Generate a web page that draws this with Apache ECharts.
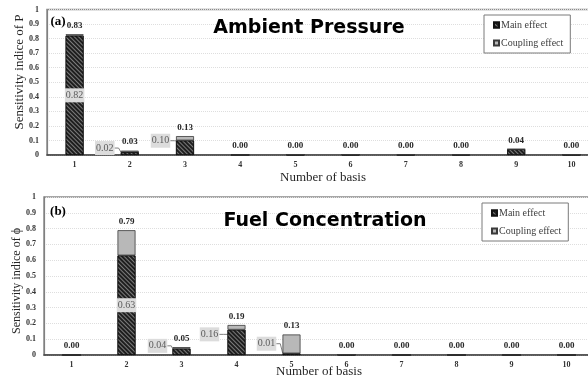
<!DOCTYPE html>
<html>
<head>
<meta charset="utf-8">
<script src="https://cdn.jsdelivr.net/npm/echarts@6/dist/echarts.min.js"></script>
<style>
  html, body { margin: 0; padding: 0; background: #fff; }
  #chart { width: 588px; height: 378px; }
</style>
</head>
<body>
<div id="chart"></div>
<script>
// Number of basis functions
const categories = ['1', '2', '3', '4', '5', '6', '7', '8', '9', '10'];
const yTicks = [0, 0.1, 0.2, 0.3, 0.4, 0.5, 0.6, 0.7, 0.8, 0.9, 1];

// (a) Ambient pressure: main and coupling sensitivity
const mainP     = [0.82, 0.02, 0.10, 0, 0.003, 0.003, 0.003, 0.003, 0.04, 0.003];
const couplingP = [0.01, 0.01, 0.03, 0, 0,     0,     0,     0,     0,    0];
const calloutP  = [0, 1, 2];

// (b) Fuel concentration: main and coupling sensitivity
const mainPhi     = [0, 0.63, 0.04, 0.16, 0.01, 0.003, 0, 0, 0, 0];
const couplingPhi = [0, 0.16, 0.01, 0.03, 0.12, 0,     0, 0, 0, 0];
const calloutPhi  = [1, 2, 3, 4];

const serif = '"Liberation Serif", "Times New Roman", serif';

// dark bars with "\" hatching
const mainStyle = {
  color: '#1e1e1e',
  borderColor: '#111',
  borderWidth: 0.8,
  decal: {
    symbol: 'rect', symbolSize: 1,
    dashArrayX: [[1, 0]], dashArrayY: [1, 2],
    rotation: Math.PI / 4,
    color: 'rgba(140,140,140,0.85)'
  }
};
const couplingStyle = { color: '#b8b8b8', borderColor: '#3a3a3a', borderWidth: 0.8 };

const calloutLabel = {
  show: true, position: 'inside',
  formatter: p => p.value.toFixed(2),
  fontFamily: serif, fontSize: 10, color: '#5a5a5a',
  backgroundColor: '#dcdcdc', padding: [2, 1]
};

function mainData(values, callouts) {
  return values.map((v, i) => callouts.includes(i)
    ? { value: v, label: calloutLabel }
    : { value: v, label: { show: false } });
}

function totalLabel(mainArr, coupArr) {
  return {
    show: true, position: 'top', distance: 4,
    formatter: p => (mainArr[p.dataIndex] + coupArr[p.dataIndex]).toFixed(2),
    fontFamily: serif, fontSize: 9, fontWeight: 'bold', color: '#262626'
  };
}

// shifts of the callout boxes (dx, dy) away from the bars, keyed by category
const shiftA = { 1: [-25, -5.5], 2: [-24.5, -7] };
const shiftB = { 2: [-24, -6], 3: [-27, -8], 4: [-25, -10.5] };

function layoutFor(shift) {
  return p => {
    const s = shift[p.dataIndex];
    return s ? { dx: s[0], dy: s[1] } : {};
  };
}

const leader = { show: true, length2: 4, lineStyle: { color: '#808080', width: 1 } };

// the plot areas run past the right edge of the page
const grids = [
  { left: 47, top: 9.5, width: 552, height: 145.5 },
  { left: 44, top: 197, width: 550, height: 158 }
];

function xAxis(idx, gridIndex) {
  return {
    type: 'category', gridIndex, data: categories,
    axisLine: { lineStyle: { color: '#404040', width: 1.5 } },
    axisTick: { show: false },
    axisLabel: { fontFamily: serif, fontSize: 8, fontWeight: 'bold', color: '#333', margin: 6 }
  };
}
function yAxis(gridIndex) {
  return {
    type: 'value', gridIndex, min: 0, max: 1, interval: 0.1,
    axisLine: { show: true, lineStyle: { color: '#808080', width: 1.2 } },
    axisTick: { show: false },
    axisLabel: {
      fontFamily: serif, fontSize: 8, fontWeight: 'bold', color: '#333', margin: 8,
      formatter: v => String(+v.toFixed(1))
    },
    splitLine: { lineStyle: { color: '#dedede', type: 'dotted', width: 1 } }
  };
}

function legend(left, top) {
  return {
    left, top, orient: 'vertical',
    data: [
      { name: 'Main effect', icon: 'rect' },
      { name: 'Coupling effect', icon: 'rect' }
    ],
    itemWidth: 5, itemHeight: 5, itemGap: 8,
    padding: [5, 7, 5, 9],
    borderColor: '#7a7a7a', borderWidth: 1,
    backgroundColor: '#fff',
    textStyle: { fontFamily: serif, fontSize: 10, color: '#404040', padding: [0, 0, 0, -3] },
    selectedMode: false
  };
}

function text(str, x, y, style) {
  return { type: 'text', x, y, z: 100, style: Object.assign({ text: str, align: 'center', verticalAlign: 'middle' }, style) };
}

const chart = echarts.init(document.getElementById('chart'), null, { renderer: 'canvas' });

chart.setOption({
  animation: false,
  backgroundColor: '#fff',
  grid: grids.map(g => Object.assign({
    show: true, borderColor: '#8a8a8a', borderWidth: 1.5, backgroundColor: 'transparent',
    outerBoundsMode: 'none', containLabel: false
  }, g)),
  xAxis: [xAxis(0, 0), xAxis(1, 1)],
  yAxis: [yAxis(0), yAxis(1)],
  legend: [legend(484, 15), legend(482, 203)],
  series: [
    {
      name: 'Main effect', type: 'bar', stack: 'a', xAxisIndex: 0, yAxisIndex: 0,
      barWidth: 18, itemStyle: mainStyle,
      data: mainData(mainP, calloutP),
      labelLayout: layoutFor(shiftA), labelLine: leader
    },
    {
      name: 'Coupling effect', type: 'bar', stack: 'a', xAxisIndex: 0, yAxisIndex: 0,
      barWidth: 18, itemStyle: couplingStyle,
      data: couplingP, label: totalLabel(mainP, couplingP)
    },
    {
      name: 'Main effect', type: 'bar', stack: 'b', xAxisIndex: 1, yAxisIndex: 1,
      barWidth: 18, itemStyle: mainStyle,
      data: mainData(mainPhi, calloutPhi),
      labelLayout: layoutFor(shiftB), labelLine: leader
    },
    {
      name: 'Coupling effect', type: 'bar', stack: 'b', xAxisIndex: 1, yAxisIndex: 1,
      barWidth: 18, itemStyle: couplingStyle,
      data: couplingPhi, label: totalLabel(mainPhi, couplingPhi)
    }
  ],
  graphic: [
    text('Ambient Pressure', 309, 28, { font: 'bold 19px "DejaVu Sans", Verdana, sans-serif', fill: '#000' }),
    text('Fuel Concentration', 325, 221, { font: 'bold 19px "DejaVu Sans", Verdana, sans-serif', fill: '#000' }),
    text('(a)', 58, 22, { font: 'bold 13px ' + serif, fill: '#000' }),
    text('(b)', 58, 212, { font: 'bold 13px ' + serif, fill: '#000' }),
    text('Number of basis', 323, 178, { font: '13px ' + serif, fill: '#262626' }),
    text('Number of basis', 319, 372, { font: '13px ' + serif, fill: '#262626' }),
    { type: 'text', x: 20, y: 72, rotation: Math.PI / 2, z: 100,
      style: { text: 'Sensitivity indice of P', align: 'center', verticalAlign: 'middle', font: '13px ' + serif, fill: '#262626' } },
    { type: 'text', x: 17, y: 281, rotation: Math.PI / 2, z: 100,
      style: { text: 'Sensitivity indice of \u03D5', align: 'center', verticalAlign: 'middle', font: '12px ' + serif, fill: '#262626' } }
  ]
});
</script>
</body>
</html>
